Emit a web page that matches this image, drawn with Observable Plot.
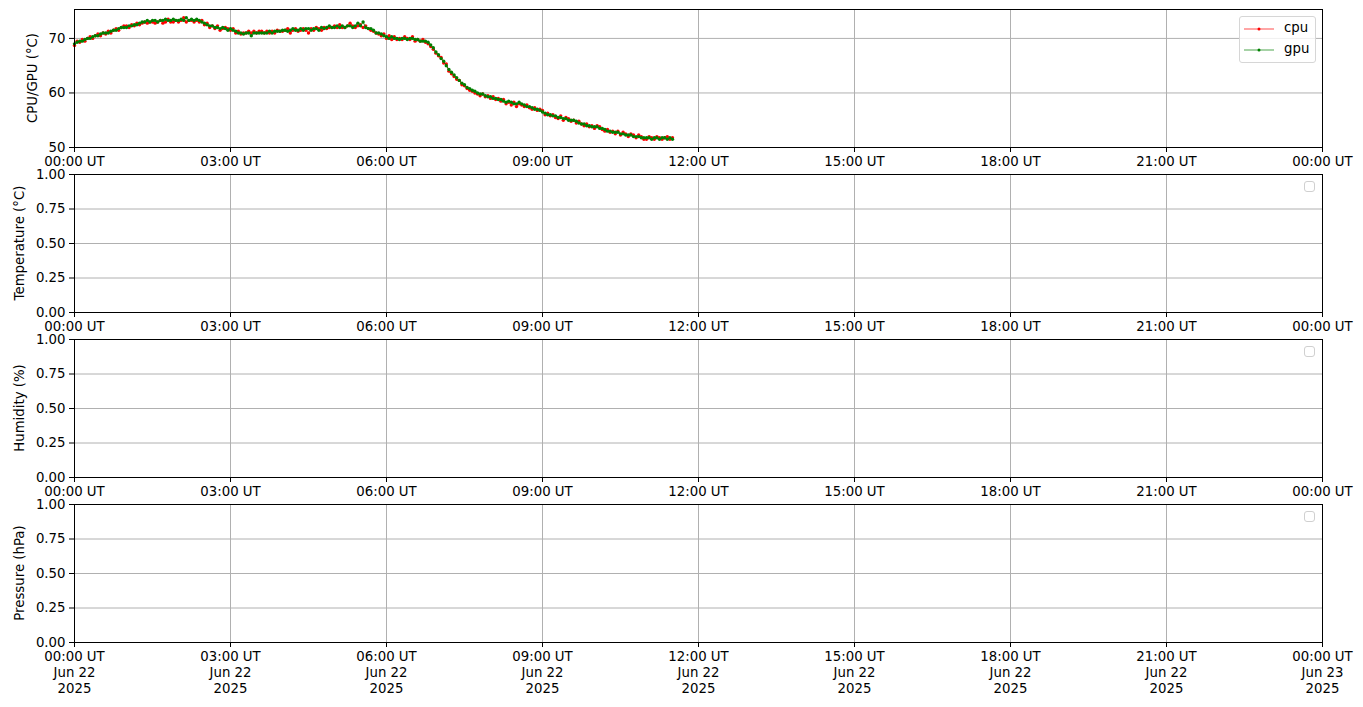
<!DOCTYPE html>
<html>
<head>
<meta charset="utf-8">
<script src="https://cdn.jsdelivr.net/npm/d3@7"></script>
<script src="https://cdn.jsdelivr.net/npm/@observablehq/plot@0.6"></script>
<style>
  html, body { margin: 0; padding: 0; background: #fff; }
  #wrap { position: relative; width: 1363px; height: 707px; overflow: hidden; font-family: "DejaVu Sans", sans-serif; }
  .panel { position: absolute; left: 0; }
  .ylab { position: absolute; font-size: 13.3px; color: #000; white-space: nowrap; transform: translate(-50%, -50%) rotate(-90deg); }
  .legend { position: absolute; background: rgba(255,255,255,0.8); border: 1px solid #d6d6d6; border-radius: 3px; box-sizing: border-box; }
  .emptyleg { position: absolute; width: 11px; height: 11px; border: 1px solid #d0d0d0; border-radius: 3px; box-sizing: border-box; background: #fff; }
</style>
</head>
<body>
<div id="wrap"></div>
<script>
// ---------------- data ----------------
const startTime = "2025-06-22T00:00:00Z";
const endTime = "2025-06-23T00:00:00Z";
const sampleMinutes = 3;

// GPU temperature (°C), one value every 3 minutes from 00:00 UT to 11:30 UT
const gpuTemp = [
  69.0, 69.3, 69.5, 69.5, 69.8, 70.0, 70.0, 70.3, 70.5, 70.5, 70.8, 71.0, 71.0, 71.0, 71.3, 71.5, 71.5, 71.8, 72.0, 72.0,
  72.0, 72.3, 72.3, 72.5, 72.5, 72.8, 73.0, 73.0, 73.3, 73.0, 73.3, 73.3, 73.0, 73.3, 73.3, 73.5, 73.3, 73.3, 73.5, 73.3,
  73.3, 73.5, 73.3, 73.8, 73.3, 73.5, 73.3, 73.5, 73.3, 73.0, 72.8, 72.5, 72.3, 72.3, 72.0, 72.0, 71.8, 72.0, 71.8, 71.5,
  71.8, 71.5, 71.3, 71.0, 71.0, 70.8, 71.0, 71.0, 70.5, 71.0, 71.0, 71.0, 71.0, 71.0, 71.0, 71.3, 71.0, 71.3, 71.3, 71.3,
  71.5, 71.5, 71.3, 71.5, 71.8, 71.5, 71.5, 71.8, 71.5, 71.8, 71.8, 71.5, 71.8, 71.8, 71.5, 72.0, 71.8, 72.0, 72.3, 72.0,
  72.0, 72.3, 72.0, 72.3, 72.0, 72.3, 72.3, 72.0, 72.3, 72.8, 72.3, 73.0, 72.0, 71.8, 71.8, 71.5, 71.0, 71.0, 70.8, 70.5,
  70.3, 70.0, 70.3, 70.0, 70.0, 69.8, 70.0, 70.0, 69.8, 70.0, 70.0, 69.8, 69.8, 69.5, 69.5, 69.5, 69.3, 68.8, 68.3, 67.5,
  67.0, 66.3, 65.8, 65.0, 64.3, 63.8, 63.3, 62.8, 62.3, 61.8, 61.5, 61.0, 60.8, 60.5, 60.3, 60.0, 59.8, 59.8, 59.5, 59.3,
  59.3, 59.0, 59.0, 58.8, 58.8, 58.5, 58.3, 58.5, 58.3, 58.0, 58.0, 58.3, 58.0, 57.8, 57.5, 57.5, 57.3, 57.0, 57.0, 56.8,
  56.5, 56.3, 56.0, 56.0, 55.8, 55.8, 55.5, 55.5, 55.3, 55.3, 55.0, 55.0, 55.0, 54.8, 54.5, 54.3, 54.3, 54.0, 54.0, 53.8,
  53.8, 53.8, 53.5, 53.5, 53.3, 53.0, 53.0, 52.8, 52.8, 52.8, 52.5, 52.5, 52.3, 52.3, 52.3, 52.0, 52.0, 52.0, 51.8, 51.8,
  51.8, 51.8, 51.5, 51.8, 51.8, 51.5, 51.8, 51.8, 51.5, 51.8, 51.5
];

// CPU temperature (°C), same sampling
const cpuTemp = [
  68.7, 69.5, 69.3, 69.8, 69.5, 70.0, 70.3, 70.0, 70.5, 70.8, 70.5, 71.0, 70.8, 71.3, 71.0, 71.5, 71.8, 71.5, 72.0, 72.3,
  72.3, 72.0, 72.5, 72.3, 72.8, 72.5, 72.8, 73.0, 72.8, 73.0, 73.0, 72.8, 73.0, 73.3, 72.8, 73.0, 73.5, 73.0, 73.0, 73.3,
  73.0, 73.3, 73.8, 73.0, 73.3, 73.3, 73.0, 73.3, 73.0, 73.3, 72.5, 72.8, 72.0, 72.3, 71.8, 72.3, 71.5, 71.8, 72.0, 71.8,
  71.5, 71.8, 71.0, 71.3, 70.8, 71.0, 71.0, 71.3, 71.0, 71.3, 71.0, 71.3, 71.3, 71.0, 71.3, 71.0, 71.3, 71.0, 71.5, 71.3,
  71.3, 71.5, 71.8, 71.0, 71.5, 71.8, 71.3, 71.5, 71.8, 71.5, 71.0, 71.8, 71.5, 72.0, 71.8, 71.5, 72.0, 71.8, 72.0, 72.0,
  72.3, 72.0, 72.5, 72.0, 72.0, 72.3, 72.8, 72.3, 72.0, 72.3, 72.5, 72.0, 72.3, 71.8, 71.5, 71.3, 71.0, 70.8, 70.5, 70.8,
  70.0, 70.5, 69.8, 70.3, 69.8, 70.0, 69.8, 70.3, 70.0, 69.8, 70.3, 69.5, 69.8, 69.5, 69.8, 69.3, 69.0, 68.5, 68.0, 67.3,
  66.8, 66.5, 65.5, 65.3, 64.0, 63.5, 63.0, 62.5, 62.3, 61.5, 61.3, 60.8, 60.5, 60.3, 60.0, 59.8, 59.5, 59.8, 59.3, 59.5,
  59.0, 59.3, 58.8, 59.0, 58.5, 58.8, 58.0, 58.3, 57.8, 58.3, 57.5, 58.0, 57.8, 57.5, 57.8, 57.3, 57.0, 57.3, 56.8, 57.0,
  56.8, 56.0, 56.3, 55.8, 56.0, 55.5, 55.3, 55.8, 55.0, 55.5, 55.3, 54.8, 55.0, 54.5, 54.8, 54.3, 54.0, 54.3, 53.8, 54.0,
  53.5, 54.0, 53.8, 53.3, 53.0, 53.3, 52.8, 53.0, 52.5, 53.0, 52.3, 52.8, 52.5, 52.0, 52.5, 52.3, 51.8, 52.3, 52.0, 51.5,
  51.5, 52.0, 51.8, 51.5, 52.0, 51.8, 51.5, 51.8, 52.0, 51.5, 51.8
];

// x ticks (hours after start) and labels
const xTickHours = [0, 3, 6, 9, 12, 15, 18, 21, 24];
const xTickLabels = ["00:00 UT", "03:00 UT", "06:00 UT", "09:00 UT", "12:00 UT", "15:00 UT", "18:00 UT", "21:00 UT", "00:00 UT"];
const xTickDates = ["Jun 22", "Jun 22", "Jun 22", "Jun 22", "Jun 22", "Jun 22", "Jun 22", "Jun 22", "Jun 23"];
const xTickYears = ["2025", "2025", "2025", "2025", "2025", "2025", "2025", "2025", "2025"];

const panelLabels = ["CPU/GPU (\u00B0C)", "Temperature (\u00B0C)", "Humidity (%)", "Pressure (hPa)"];
const tempTicks = [50, 60, 70];
const tempDomain = [50, 75.3];
const unitTicks = [0, 0.25, 0.5, 0.75, 1.0];
const unitDomain = [0, 1];
const seriesNames = ["cpu", "gpu"];
const seriesColors = ["#ff0000", "#008000"];

// ---------------- build ----------------
const t0 = new Date(startTime);
const t1 = new Date(endTime);
const tickDates = xTickHours.map(h => new Date(+t0 + h * 3600e3));
const mkRows = (vals) => vals.map((v, i) => ({ t: new Date(+t0 + i * sampleMinutes * 60e3), v }));
const cpuRows = mkRows(cpuTemp);
const gpuRows = mkRows(gpuTemp);

const wrap = document.getElementById("wrap");
const panelTops = [9, 174, 339, 504];
const plotH = 138;
const mt = 10;

function labelFor(d, multi) {
  const i = tickDates.findIndex(x => +x === +d);
  if (i < 0) return "";
  return multi ? `${xTickLabels[i]}\n${xTickDates[i]}\n${xTickYears[i]}` : xTickLabels[i];
}

panelTops.forEach((top, p) => {
  const last = p === 3;
  const mb = last ? 70 : 30;
  const isTemp = p === 0;
  const marks = [
    Plot.gridX(tickDates, { stroke: "#b0b0b0", strokeOpacity: 1, strokeWidth: 1 }),
    Plot.gridY(isTemp ? tempTicks : unitTicks, { stroke: "#b0b0b0", strokeOpacity: 1, strokeWidth: 1 })
  ];
  if (isTemp) {
    [cpuRows, gpuRows].forEach((rows, k) => {
      marks.push(Plot.line(rows, { x: "t", y: "v", stroke: seriesColors[k], strokeWidth: 0.8 }));
      marks.push(Plot.dot(rows, { x: "t", y: "v", fill: seriesColors[k], r: 1.7, stroke: null }));
    });
  }
  marks.push(Plot.frame({ stroke: "#000", strokeWidth: 1 }));
  marks.push(Plot.axisX({
    ticks: tickDates, tickFormat: d => labelFor(d, last), tickSize: 5, tickPadding: 2,
    stroke: "#000", fill: "#000", label: null, lineHeight: 1.2
  }));
  marks.push(Plot.axisY({
    ticks: isTemp ? tempTicks : unitTicks,
    tickFormat: isTemp ? d3.format("d") : d3.format(".2f"),
    tickSize: 5, tickPadding: 4, stroke: "#000", fill: "#000", label: null
  }));
  const svg = Plot.plot({
    width: 1363,
    height: mt + plotH + mb,
    marginLeft: 74, marginRight: 41, marginTop: mt, marginBottom: mb,
    style: { fontFamily: "DejaVu Sans, sans-serif", fontSize: "13.3px", background: "transparent", overflow: "visible", color: "#000" },
    x: { type: "utc", domain: [t0, t1] },
    y: { domain: isTemp ? tempDomain : unitDomain },
    marks
  });
  svg.classList.add("panel");
  svg.style.top = (top - mt) + "px";
  wrap.appendChild(svg);

  const yl = document.createElement("div");
  yl.className = "ylab";
  yl.textContent = panelLabels[p];
  yl.style.left = (isTemp ? 32 : 19) + "px";
  yl.style.top = (top + plotH / 2) + "px";
  wrap.appendChild(yl);

  if (isTemp) {
    const lg = document.createElement("div");
    lg.className = "legend";
    lg.style.left = "1239px"; lg.style.top = "16px"; lg.style.width = "77px"; lg.style.height = "47px";
    let html = "";
    seriesNames.forEach((n, k) => {
      const y = 12 + k * 21;
      html += `<svg style="position:absolute;left:4px;top:${y - 5}px" width="30" height="10"><line x1="0" x2="30" y1="5" y2="5" stroke="${seriesColors[k]}" stroke-width="0.7"/><circle cx="15" cy="5" r="1.5" fill="${seriesColors[k]}"/></svg>`;
      html += `<div style="position:absolute;left:44px;top:${y - 9}px;font-size:13.3px;line-height:16px;">${n}</div>`;
    });
    lg.innerHTML = html;
    wrap.appendChild(lg);
  } else {
    const e = document.createElement("div");
    e.className = "emptyleg";
    e.style.left = "1304px";
    e.style.top = (top + 7) + "px";
    wrap.appendChild(e);
  }
});
</script>
</body>
</html>
